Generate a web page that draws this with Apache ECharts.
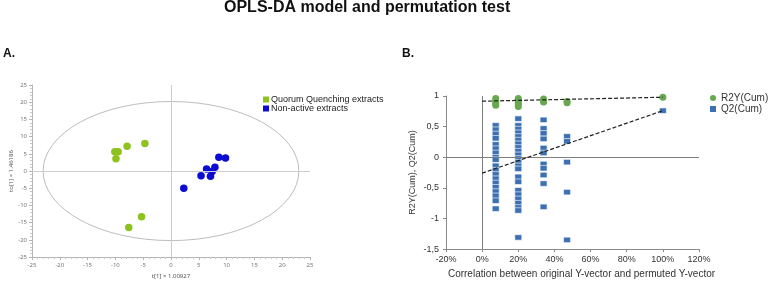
<!DOCTYPE html>
<html><head><meta charset="utf-8">
<script src="https://cdn.jsdelivr.net/npm/echarts@6/dist/echarts.min.js"></script>
<style>html,body{margin:0;padding:0;background:#fff}#c{width:777px;height:284px}</style>
</head><body><div id="c"></div>
<script>
// ---- Panel A: OPLS-DA score plot ----
const qqX = [-10.1, -9.5, -9.9, -7.9, -4.7, -5.3, -7.6];
const qqY = [5.6, 5.6, 3.6, 7.2, 8.0, -13.3, -16.4];
const naX = [2.3, 5.4, 6.4, 7.1, 7.4, 7.9, 8.6, 9.8];
const naY = [-5.0, -1.4, 0.6, -1.5, -0.1, 1.1, 4.0, 3.8];
const ellCenter = [0, 0];
const ellRadii = [23, 20.2];

// ---- Panel B: permutation test ----
const permCols = [7.5, 20, 34, 47, 100];
const r2Cols = [
  [0.96, 0.92, 0.88, 0.85],
  [0.96, 0.93, 0.89, 0.86, 0.83],
  [0.95, 0.92, 0.90],
  [0.91, 0.89],
  [0.98]
];
const q2Cols = [
  [0.52, 0.45, 0.38, 0.31, 0.21, 0.14, 0.07, 0.00, -0.04, -0.14, -0.21, -0.28, -0.35, -0.42, -0.49, -0.56, -0.63, -0.71, -0.84],
  [0.63, 0.52, 0.46, 0.40, 0.34, 0.28, 0.22, 0.16, 0.10, 0.04, -0.02, -0.08, -0.14, -0.19, -0.32, -0.40, -0.54, -0.61, -0.68, -0.75, -0.82, -0.87, -1.31],
  [0.61, 0.47, 0.39, 0.30, 0.15, 0.07, -0.11, -0.18, -0.29, -0.43, -0.81],
  [0.34, 0.26, -0.08, -0.57, -1.35],
  [0.76]
];
const r2LineX = [0, 100];
const r2LineY = [0.915, 0.98];
const q2LineX = [0, 100];
const q2LineY = [-0.26, 0.76];

const zip = (xs, ys) => xs.map((x, i) => [x, ys[i]]);
const flatCols = (cols) => {
  const out = [];
  cols.forEach((col, i) => col.forEach(v => out.push([permCols[i], v])));
  return out;
};

const chart = echarts.init(document.getElementById('c'), null, {renderer: 'canvas'});
const fA = 'Noto Sans, Arial, sans-serif';
const fB = 'Liberation Sans, Arial, sans-serif';

const option = {
  animation: false,
  backgroundColor: '#fff',
  graphic: [
    {type: 'text', left: 224, top: 0, style: {text: 'OPLS-DA model and permutation test', font: 'bold 16px Liberation Sans, Arial', fill: '#111'}},
    {type: 'text', left: 3, top: 48, style: {text: 'A.', font: 'bold 12px Liberation Sans, Arial', fill: '#111'}},
    {type: 'text', left: 402, top: 48, style: {text: 'B.', font: 'bold 12px Liberation Sans, Arial', fill: '#111'}}
  ],
  grid: [
    {left: 32, top: 85, width: 278, height: 175},
    {left: 446, top: 96, width: 253, height: 161}
  ],
  legend: [
    {
      orient: 'vertical', left: 258, top: 90, itemWidth: 6, itemHeight: 6, itemGap: 0,
      textStyle: {fontSize: 9, color: '#222', fontFamily: fB, padding: [0, 0, 0, -3]},
      data: [{name: 'Quorum Quenching extracts', icon: 'rect'}, {name: 'Non-active extracts', icon: 'rect'}]
    },
    {
      orient: 'vertical', left: 705, top: 88, itemWidth: 6, itemHeight: 6, itemGap: 1,
      textStyle: {fontSize: 10, color: '#333', fontFamily: fB},
      data: [{name: 'R2Y(Cum)', icon: 'circle'}, {name: 'Q2(Cum)', icon: 'rect', itemStyle: {borderWidth: 0}}]
    }
  ],
  xAxis: [
    {
      type: 'value', gridIndex: 0, min: -25, max: 25, interval: 5,
      axisLine: {onZero: false, lineStyle: {color: '#b5b5b5'}},
      axisTick: {length: 3, lineStyle: {color: '#b5b5b5'}},
      minorTick: {show: true, splitNumber: 5, length: 2, lineStyle: {color: '#c8c8c8'}},
      splitLine: {show: false},
      axisLabel: {fontSize: 6, color: '#777', margin: 5, fontFamily: fA},
      name: 't[1] × 1.00927', nameLocation: 'middle', nameGap: 15,
      nameTextStyle: {fontSize: 6, color: '#555', fontFamily: fA}
    },
    {
      type: 'value', gridIndex: 1, min: -20, max: 120, interval: 20,
      axisLine: {onZero: false, lineStyle: {color: '#8a8a8a'}},
      axisTick: {length: 3, lineStyle: {color: '#8a8a8a'}},
      splitLine: {show: false},
      axisLabel: {fontSize: 9, color: '#333', margin: 6, fontFamily: fB, formatter: '{value}%'},
      name: 'Correlation between original Y-vector and permuted Y-vector', nameLocation: 'middle', nameGap: 16,
      nameTextStyle: {fontSize: 10, color: '#333', fontFamily: fB, padding: [0, 0, 0, 18]}
    }
  ],
  yAxis: [
    {
      type: 'value', gridIndex: 0, min: -25, max: 25, interval: 5,
      axisLine: {show: true, onZero: false, lineStyle: {color: '#b5b5b5'}},
      axisTick: {show: true, length: 3, lineStyle: {color: '#b5b5b5'}},
      minorTick: {show: true, splitNumber: 5, length: 2, lineStyle: {color: '#c8c8c8'}},
      splitLine: {show: false},
      axisLabel: {fontSize: 6, color: '#777', margin: 5, fontFamily: fA},
      name: 'to[1] × 1.46186', nameLocation: 'middle', nameGap: 18,
      nameTextStyle: {fontSize: 6, color: '#555', fontFamily: fA}
    },
    {
      type: 'value', gridIndex: 1, min: -1.5, max: 1, interval: 0.5,
      axisLine: {show: true, onZero: false, lineStyle: {color: '#8a8a8a'}},
      axisTick: {show: true, length: 3, lineStyle: {color: '#8a8a8a'}},
      splitLine: {show: false},
      axisLabel: {fontSize: 9, color: '#333', margin: 7, fontFamily: fB,
        formatter: v => String(v).replace('.', ',')},
      name: 'R2Y(Cum), Q2(Cum)', nameLocation: 'middle', nameGap: 29,
      nameTextStyle: {fontSize: 9, color: '#333', fontFamily: fB}
    }
  ],
  series: [
    {
      type: 'custom', name: 'ellipse', xAxisIndex: 0, yAxisIndex: 0, silent: true, clip: false, z: 1,
      data: [[ellCenter[0], ellCenter[1], ellRadii[0], ellRadii[1]]],
      renderItem: function (params, api) {
        const c = api.coord([api.value(0), api.value(1)]);
        const s = api.size([api.value(2), api.value(3)]);
        const rx = s[0], ry = s[1];
        const d = 'M' + (c[0] - rx) + ' ' + c[1] +
          ' A' + rx + ' ' + ry + ' 0 1 0 ' + (c[0] + rx) + ' ' + c[1] +
          ' A' + rx + ' ' + ry + ' 0 1 0 ' + (c[0] - rx) + ' ' + c[1] + ' Z';
        return {type: 'path', shape: {pathData: d}, style: {fill: 'none', stroke: '#bdbdbd', lineWidth: 1}};
      }
    },
    {
      type: 'scatter', name: 'zeroA', xAxisIndex: 0, yAxisIndex: 0, data: [], z: 1,
      markLine: {silent: true, symbol: ['none', 'none'], label: {show: false},
        lineStyle: {color: '#cdcdcd', type: 'solid', width: 1},
        data: [{xAxis: 0}, {yAxis: 0}]}
    },
    {
      type: 'scatter', name: 'Quorum Quenching extracts', xAxisIndex: 0, yAxisIndex: 0,
      data: zip(qqX, qqY), symbol: 'circle', symbolSize: 7.5, z: 3,
      itemStyle: {color: '#8dc21f', opacity: 1}
    },
    {
      type: 'scatter', name: 'Non-active extracts', xAxisIndex: 0, yAxisIndex: 0,
      data: zip(naX, naY), symbol: 'circle', symbolSize: 7.5, z: 3,
      itemStyle: {color: '#0b0bd4', opacity: 1}
    },
    {
      type: 'scatter', name: 'zeroB', xAxisIndex: 1, yAxisIndex: 1, data: [], z: 1,
      markLine: {silent: true, symbol: ['none', 'none'], label: {show: false},
        lineStyle: {color: '#7f7f7f', type: 'solid', width: 1},
        data: [{xAxis: 0}, {yAxis: 0}]}
    },
    {
      type: 'scatter', name: 'Q2(Cum)', xAxisIndex: 1, yAxisIndex: 1,
      data: flatCols(q2Cols), symbol: 'rect', symbolSize: [7, 5.5], z: 3,
      itemStyle: {color: '#3d70b2', borderColor: '#ffffff', borderWidth: 0.6, opacity: 1}
    },
    {
      type: 'scatter', name: 'R2Y(Cum)', xAxisIndex: 1, yAxisIndex: 1,
      data: flatCols(r2Cols), symbol: 'circle', symbolSize: 7, z: 3,
      itemStyle: {color: '#6aa84f', opacity: 1}
    },
    {
      type: 'line', name: 'r2fit', xAxisIndex: 1, yAxisIndex: 1, data: zip(r2LineX, r2LineY),
      symbol: 'none', z: 5, silent: true,
      lineStyle: {color: '#222', width: 1.2, type: [4, 2]}
    },
    {
      type: 'line', name: 'q2fit', xAxisIndex: 1, yAxisIndex: 1, data: zip(q2LineX, q2LineY),
      symbol: 'none', z: 5, silent: true,
      lineStyle: {color: '#222', width: 1.2, type: [4, 2]}
    }
  ]
};
chart.setOption(option);
</script></body></html>
